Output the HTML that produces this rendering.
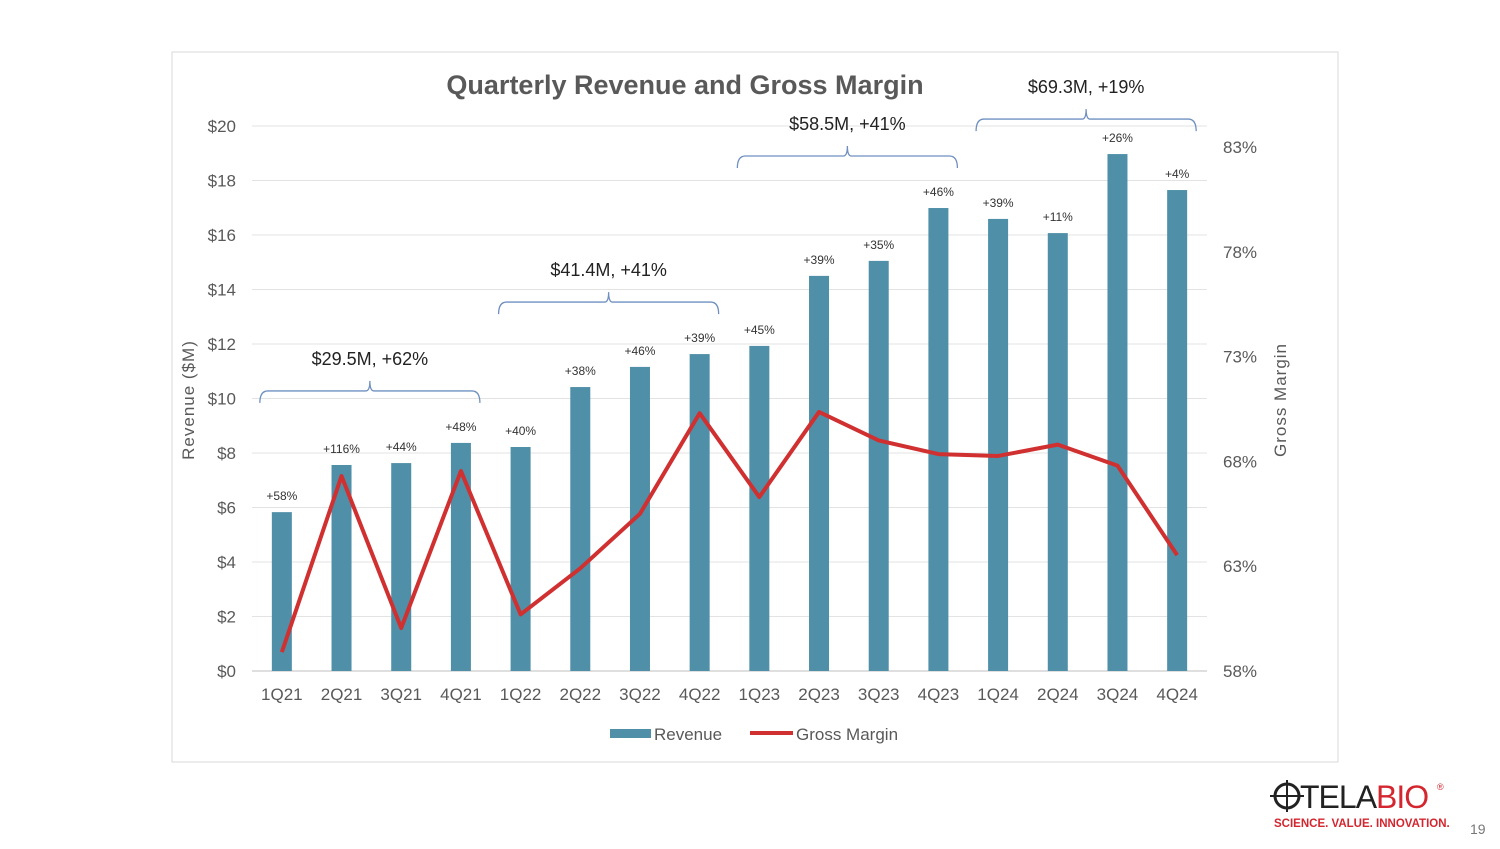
<!DOCTYPE html>
<html><head><meta charset="utf-8"><style>
body{margin:0;background:#fff;width:1500px;height:844px;overflow:hidden;font-family:"Liberation Sans",sans-serif}
svg text{font-family:"Liberation Sans",sans-serif}
</style></head><body>
<svg id="c" width="1500" height="844" xmlns="http://www.w3.org/2000/svg">
<rect x="172" y="52" width="1166" height="710" fill="#fff" stroke="#d9d9d9"/>
<text x="685" y="94" text-anchor="middle" font-size="27" font-weight="bold" fill="#595959">Quarterly Revenue and Gross Margin</text>
<g id="grid"></g><g id="bars"></g><g id="line"></g><g id="labels"></g><g id="brackets"></g>
<text transform="translate(194,400) rotate(-90)" text-anchor="middle" font-size="17" fill="#595959" letter-spacing="1">Revenue ($M)</text>
<text transform="translate(1286,400) rotate(-90)" text-anchor="middle" font-size="17" fill="#595959" letter-spacing="1">Gross Margin</text>
<g>
<rect x="610" y="729" width="41" height="9" fill="#4f8fa8"/>
<text x="654" y="740" font-size="17" fill="#595959">Revenue</text>
<line x1="750" y1="733" x2="793" y2="733" stroke="#d03030" stroke-width="4"/>
<text x="796" y="740" font-size="17" fill="#595959">Gross Margin</text>
</g>
<g>
<circle cx="1287" cy="796" r="12" fill="none" stroke="#222" stroke-width="3"/>
<line x1="1270" y1="796" x2="1304" y2="796" stroke="#222" stroke-width="2"/>
<line x1="1287" y1="780" x2="1287" y2="812" stroke="#222" stroke-width="2"/>
<text x="1300" y="808" font-size="32" fill="#222" letter-spacing="-1">TELA<tspan fill="#d4262f">BIO</tspan></text>
<text x="1437" y="790" font-size="9" fill="#d4262f">®</text>
<text x="1274" y="827" font-size="11.5" fill="#d4262f" font-weight="bold">SCIENCE. VALUE. INNOVATION.</text>
</g>
<text x="1470" y="834" font-size="14" fill="#777">19</text>
</svg>
<script>
const categories=["1Q21","2Q21","3Q21","4Q21","1Q22","2Q22","3Q22","4Q22","1Q23","2Q23","3Q23","4Q23","1Q24","2Q24","3Q24","4Q24"];
const revenue=[5.83,7.56,7.63,8.37,8.22,10.42,11.16,11.63,11.93,14.5,15.05,16.99,16.59,16.07,18.97,17.65];
const grossMargin=[58.9,67.3,60.05,67.54,60.7,62.9,65.5,70.3,66.3,70.36,69.0,68.35,68.26,68.8,67.8,63.53];
const growthLabels=["+58%","+116%","+44%","+48%","+40%","+38%","+46%","+39%","+45%","+39%","+35%","+46%","+39%","+11%","+26%","+4%"];
const leftTicks=[0,2,4,6,8,10,12,14,16,18,20];
const rightTicks=[58,63,68,73,78,83];
const annualLabels=["$29.5M, +62%","$41.4M, +41%","$58.5M, +41%","$69.3M, +19%"];
const annualStart=[0,4,8,12];

const NS="http://www.w3.org/2000/svg";
const X0=252,X1=1207,n=categories.length,step=(X1-X0)/n;
const xC=i=>X0+step*(i+0.5);
const yL=v=>671-v*27.25;
const yR=v=>671-(v-58)*20.96;
function mk(t,a,p,txt){const e=document.createElementNS(NS,t);for(const k in a)e.setAttribute(k,a[k]);if(txt!=null)e.textContent=txt;p.appendChild(e);return e;}
const G=id=>document.getElementById(id);
leftTicks.forEach(v=>{
 const l=mk('line',{x1:X0,x2:X1,y1:yL(v),y2:yL(v),stroke:v==0?'#bfbfbf':'#e3e3e3'},G('grid'));
 
 
 const t=mk('text',{x:236,y:yL(v)+6,'text-anchor':'end','font-size':17,fill:'#595959'},G('grid'),'$'+v);
 
 
});
rightTicks.forEach(v=>{
 const t=mk('text',{x:1223,y:yR(v)+6,'font-size':17,fill:'#595959'},G('grid'),v+'%');
 
 
});
categories.forEach((c,i)=>{
 const b=mk('rect',{x:xC(i)-10,y:yL(revenue[i]),width:20,height:yL(0)-yL(revenue[i]),fill:'#4f8fa8'},G('bars'));
 
 
 const t=mk('text',{x:xC(i),y:700,'text-anchor':'middle','font-size':17,fill:'#595959'},G('labels'),c);
 
 
 const g=mk('text',{x:xC(i),y:yL(revenue[i])-12,'text-anchor':'middle','font-size':12,fill:'#333'},G('labels'),growthLabels[i]);
 
 
});
const pl=mk('polyline',{points:grossMargin.map((v,i)=>xC(i)+','+yR(v)).join(' '),fill:'none',stroke:'#d03030','stroke-width':4,'stroke-linejoin':'round'},G('line'));


annualStart.forEach((s,k)=>{
 const a=xC(s)-22,b=xC(s+3)+19;
 let top=Infinity;for(let j=s;j<s+4;j++)top=Math.min(top,yL(revenue[j]));
 const y=top-(k==3?35:52),m=(a+b)/2;
 const p=mk('path',{d:`M${a},${y+12} Q${a},${y} ${a+8},${y} L${m-4},${y} Q${m},${y} ${m},${y-10} Q${m},${y} ${m+4},${y} L${b-8},${y} Q${b},${y} ${b},${y+12}`,fill:'none',stroke:'#6f8fc0','stroke-width':1.3},G('brackets'));
 
 
 const t=mk('text',{x:m,y:y-26,'text-anchor':'middle','font-size':18,fill:'#222'},G('brackets'),annualLabels[k]);
 
 
});
</script>
</body></html>
